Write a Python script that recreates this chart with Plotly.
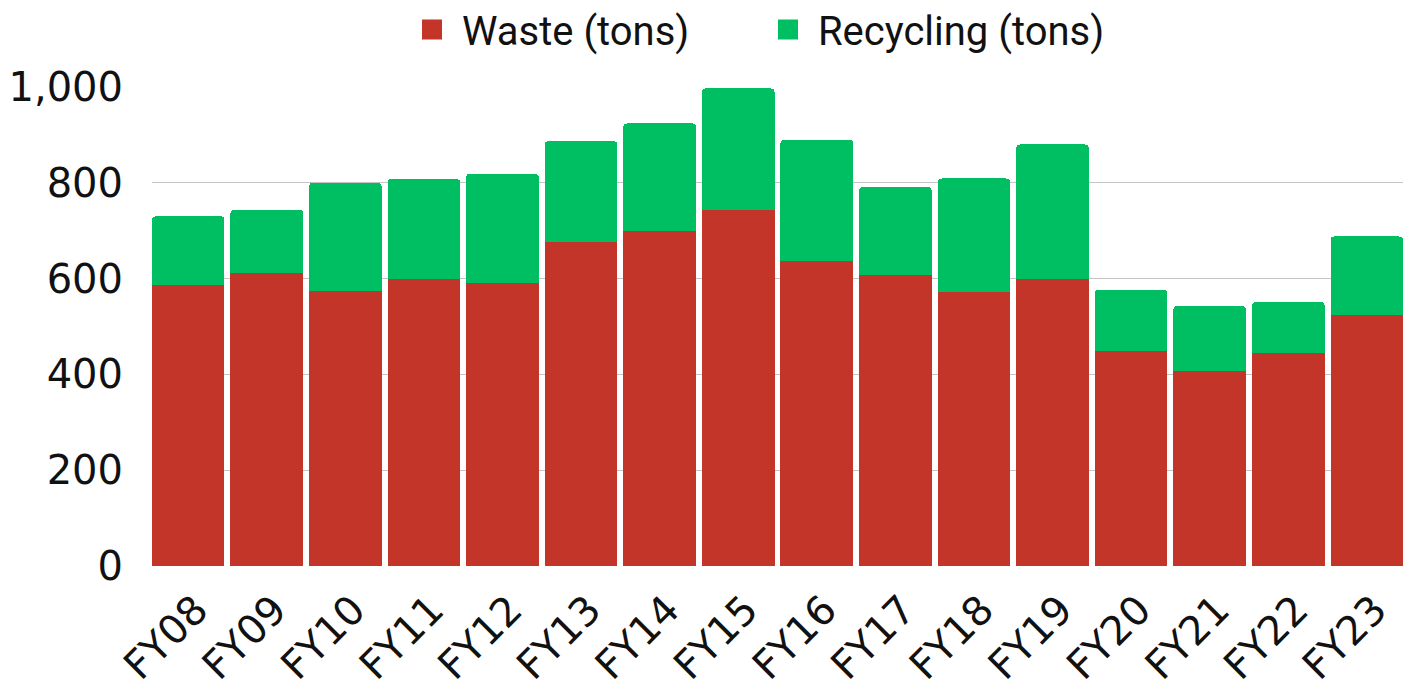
import plotly.graph_objects as go

# Fiscal years and tonnage by stream
years = ["FY08", "FY09", "FY10", "FY11", "FY12", "FY13", "FY14", "FY15",
         "FY16", "FY17", "FY18", "FY19", "FY20", "FY21", "FY22", "FY23"]
waste_tons = [587, 611, 575, 600, 590, 677, 700, 744,
              637, 608, 571, 600, 448, 407, 444, 525]
recycling_tons = [143, 133, 225, 208, 229, 210, 224, 253,
                  253, 183, 238, 280, 129, 136, 107, 163]
y_ticks = [0, 200, 400, 600, 800, 1000]

WASTE_COLOR = "#C23528"
RECYCLE_COLOR = "#00BF63"

fig = go.Figure()
fig.add_trace(go.Bar(x=years, y=waste_tons, name="Waste (tons)",
                     marker=dict(color=WASTE_COLOR, line=dict(width=0)),
                     showlegend=False))
fig.add_trace(go.Bar(x=years, y=recycling_tons, name="Recycling (tons)",
                     marker=dict(color=RECYCLE_COLOR, line=dict(width=0)),
                     showlegend=False))

# Legend entries with larger square swatches
for label, color in [("Waste (tons)", WASTE_COLOR), ("Recycling (tons)", RECYCLE_COLOR)]:
    fig.add_trace(go.Scatter(x=[None], y=[None], mode="markers", name=" " + label,
                             marker=dict(symbol="square", size=16, color=color,
                                         line=dict(width=4, color=color)),
                             hoverinfo="skip"))

fig.update_layout(
    width=1413, height=683,
    margin=dict(l=152, r=10, t=87, b=117, autoexpand=False),
    barmode="stack", bargap=0.075, barcornerradius=4,
    plot_bgcolor="white", paper_bgcolor="white",
    legend=dict(orientation="h", traceorder="normal", xref="container",
                x=412 / 1413, xanchor="left", yref="paper", y=1 + 90 / 479,
                yanchor="top", entrywidth=311,
                font=dict(family="Roboto", size=40, color="#111111"),
                bgcolor="rgba(0,0,0,0)"),
    xaxis=dict(range=[-0.46, 15.46], tickangle=-45, showgrid=False,
               zeroline=False, showline=False, ticks="",
               ticklabelstandoff=11, ticklabelshift=8,
               tickfont=dict(family="DejaVu Sans", size=40, color="#111111")),
    yaxis=dict(range=[0, 1000], tickvals=y_ticks, tickformat=",d",
               showgrid=True, gridcolor="#C4C4C4", gridwidth=1.3,
               zeroline=False, showline=False, ticks="", ticklabelstandoff=28,
               tickfont=dict(family="DejaVu Sans", size=40, color="#111111")),
)

fig.write_html("out.html")
